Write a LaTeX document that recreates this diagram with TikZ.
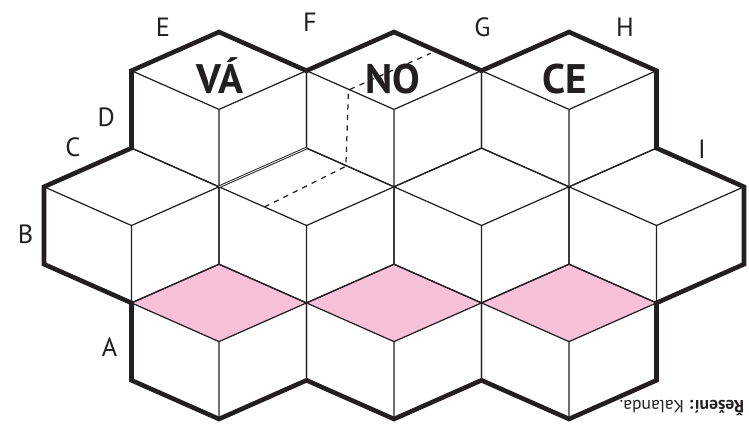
\documentclass[tikz,border=0pt]{standalone}
\usepackage{fontspec}
\setmainfont{PT Sans}
\usepackage{tikz}

\definecolor{ink}{RGB}{35,31,32}
\definecolor{ruzova}{RGB}{246,192,217}

% one cube: #1 = column of its axis, #2 = row of its top corner
\newcommand{\kostka}[2]{%
  \draw[tenka] (#1,#2) -- (#1-1,#2+1) -- (#1-1,#2+3) -- (#1,#2+4) -- (#1+1,#2+3) -- (#1+1,#2+1) -- cycle;
  \draw[tenka] (#1-1,#2+1) -- (#1,#2+2) -- (#1+1,#2+1)  (#1,#2+2) -- (#1,#2+4);
}

\begin{document}
\begin{tikzpicture}[x=1.75cm, y=-0.774cm,
  tenka/.style={draw=ink, line width=0.7pt},
  okraj/.style={draw=ink, line width=2.6pt},
  pismeno/.style={font=\fontsize{15}{15}\selectfont, text=ink},
  slovo/.style={font=\fontsize{23.5}{23.5}\selectfont\bfseries, text=ink, anchor=base}]
  \useasboundingbox (-0.5029,-0.8269) rectangle (8.0571,10.2326);

  % pink tops of the lower cubes
  \foreach \i in {2,4,6}
    \fill[ruzova] (\i,6) -- (\i-1,7) -- (\i,8) -- (\i+1,7) -- cycle;

  \foreach \i in {2,4,6} {\kostka{\i}{0} \kostka{\i}{6}}
  \foreach \i in {1,3,5,7} {\kostka{\i}{3}}

  % hidden cube
  \draw[tenka, dashed] (2.52,4.52) -- (3.45,3.47) -- (3.48,1.5) -- (4.42,0.55);
  \draw[draw=ink, line width=0.55pt, double=white, double distance=0.45pt] (2,4) -- (3,3);

  \draw[okraj] (1,9) -- (1,7) -- (0,6) -- (0,4) -- (1,3) -- (1,1) -- (2,0) -- (3,1)
    -- (4,0) -- (5,1) -- (6,0) -- (7,1) -- (7,3) -- (8,4) -- (8,6) -- (7,7) -- (7,9)
    -- (6,10) -- (5,9) -- (4,10) -- (3,9) -- (2,10) -- cycle;

  \node[slovo] (va) at (2.01,1.58) {VÁ};
  \node[slovo] (no) at (3.99,1.58) {NO};
  \node[slovo] (ce) at (5.95,1.58) {CE};

  \node[pismeno] (a) at (0.75,8.14) {A};
  \node[pismeno] (b) at (-0.21,5.22) {B};
  \node[pismeno] (c) at (0.33,2.97) {C};
  \node[pismeno] (d) at (0.71,2.20) {D};
  \node[pismeno] (e) at (1.36,-0.13) {E};
  \node[pismeno] (f) at (3.04,-0.26) {F};
  \node[pismeno] (g) at (5.01,-0.13) {G};
  \node[pismeno] (h) at (6.64,-0.13) {H};
  \node[pismeno] (i) at (7.52,3.02) {I};

  \node[font=\fontsize{10}{12}\selectfont, text=ink, rotate=180] (reseni) at (7.29,9.72)
    {\textbf{Řešení:} Kalanda.};
\end{tikzpicture}
\end{document}
